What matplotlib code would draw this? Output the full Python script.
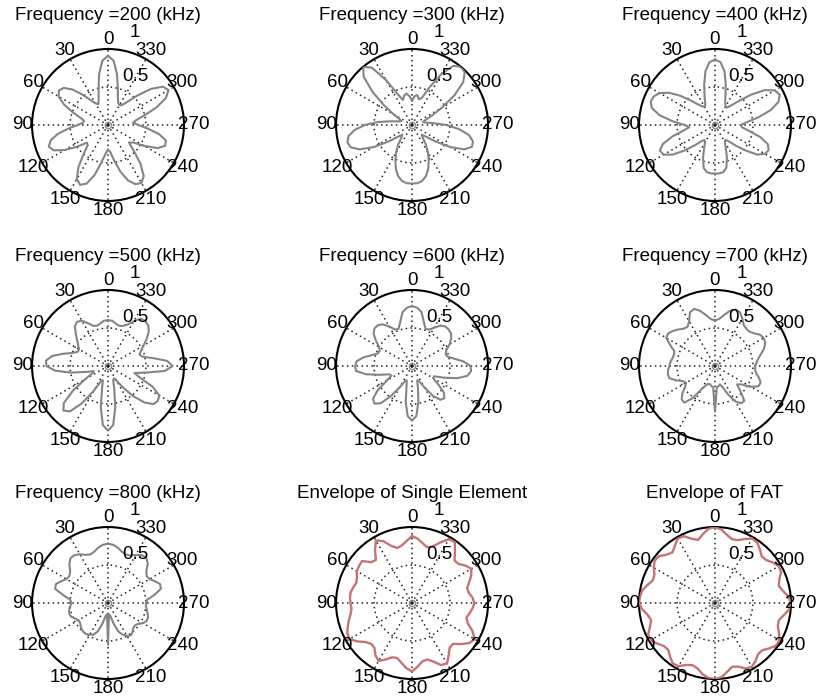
import numpy as np
import matplotlib.pyplot as plt

plt.rcParams['font.family'] = ['Liberation Sans', 'DejaVu Sans']

# angle grid in degrees (0 at top, counter-clockwise)
angles_deg = np.arange(0, 360, 5)

r_200 = [0.91, 0.85, 0.68, 0.48, 0.36, 0.30, 0.33, 0.40, 0.52, 0.66, 0.76, 0.79,
         0.75, 0.64, 0.50, 0.38, 0.32, 0.33, 0.40, 0.52, 0.67, 0.78, 0.83, 0.79,
         0.66, 0.50, 0.36, 0.38, 0.50, 0.68, 0.82, 0.87, 0.82, 0.68, 0.50, 0.38,
         0.32, 0.36, 0.48, 0.64, 0.78, 0.86, 0.88, 0.82, 0.66, 0.48, 0.36, 0.40,
         0.55, 0.72, 0.80, 0.79, 0.68, 0.52, 0.40, 0.33, 0.38, 0.50, 0.68, 0.84,
         0.92, 0.88, 0.74, 0.55, 0.40, 0.32, 0.30, 0.32, 0.38, 0.50, 0.68, 0.85]

r_300 = [0.32, 0.38, 0.42, 0.40, 0.35, 0.45, 0.68, 0.92, 1.00, 0.90, 0.68, 0.45,
         0.28, 0.18, 0.15, 0.18, 0.28, 0.45, 0.62, 0.76, 0.85, 0.88, 0.86, 0.76,
         0.58, 0.38, 0.24, 0.18, 0.22, 0.32, 0.42, 0.52, 0.62, 0.70, 0.75, 0.77,
         0.77, 0.77, 0.75, 0.70, 0.62, 0.52, 0.42, 0.32, 0.22, 0.18, 0.24, 0.38,
         0.58, 0.76, 0.84, 0.83, 0.76, 0.62, 0.45, 0.28, 0.18, 0.15, 0.18, 0.28,
         0.45, 0.68, 0.88, 0.98, 1.00, 0.95, 0.78, 0.55, 0.38, 0.35, 0.40, 0.38]

r_400 = [0.86, 0.83, 0.72, 0.55, 0.40, 0.30, 0.28, 0.30, 0.36, 0.46, 0.60, 0.74,
         0.84, 0.89, 0.90, 0.86, 0.74, 0.56, 0.40, 0.34, 0.42, 0.58, 0.73, 0.80,
         0.78, 0.68, 0.52, 0.38, 0.28, 0.24, 0.26, 0.34, 0.46, 0.58, 0.63, 0.64,
         0.64, 0.64, 0.63, 0.58, 0.46, 0.34, 0.26, 0.24, 0.28, 0.38, 0.52, 0.68,
         0.76, 0.78, 0.74, 0.62, 0.46, 0.36, 0.34, 0.42, 0.58, 0.76, 0.89, 0.94,
         0.91, 0.80, 0.62, 0.45, 0.34, 0.28, 0.28, 0.32, 0.40, 0.55, 0.72, 0.83]

r_500 = [0.60, 0.60, 0.57, 0.55, 0.56, 0.62, 0.69, 0.71, 0.68, 0.60, 0.53, 0.48,
         0.44, 0.44, 0.50, 0.62, 0.75, 0.82, 0.81, 0.70, 0.50, 0.30, 0.20, 0.22,
         0.35, 0.56, 0.76, 0.83, 0.78, 0.60, 0.38, 0.22, 0.20, 0.30, 0.55, 0.78,
         0.85, 0.78, 0.55, 0.32, 0.20, 0.18, 0.22, 0.35, 0.52, 0.68, 0.78, 0.80,
         0.78, 0.65, 0.45, 0.36, 0.50, 0.75, 0.85, 0.78, 0.60, 0.47, 0.44, 0.48,
         0.54, 0.62, 0.70, 0.75, 0.77, 0.76, 0.68, 0.60, 0.56, 0.55, 0.57, 0.60]

r_600 = [0.79, 0.77, 0.72, 0.60, 0.52, 0.53, 0.60, 0.67, 0.70, 0.70, 0.66, 0.58,
         0.50, 0.47, 0.48, 0.55, 0.65, 0.73, 0.75, 0.74, 0.62, 0.45, 0.32, 0.30,
         0.38, 0.55, 0.67, 0.70, 0.64, 0.48, 0.32, 0.22, 0.20, 0.28, 0.48, 0.66,
         0.72, 0.66, 0.48, 0.30, 0.20, 0.22, 0.32, 0.48, 0.58, 0.60, 0.55, 0.42,
         0.32, 0.32, 0.45, 0.62, 0.74, 0.78, 0.77, 0.68, 0.56, 0.48, 0.47, 0.50,
         0.57, 0.63, 0.67, 0.68, 0.68, 0.65, 0.58, 0.53, 0.52, 0.60, 0.72, 0.77]

r_700 = [0.60, 0.62, 0.68, 0.75, 0.80, 0.78, 0.68, 0.63, 0.64, 0.68, 0.72, 0.75,
         0.74, 0.65, 0.57, 0.56, 0.57, 0.59, 0.60, 0.62, 0.63, 0.62, 0.55, 0.47,
         0.44, 0.48, 0.56, 0.62, 0.63, 0.52, 0.35, 0.28, 0.25, 0.25, 0.27, 0.28,
         0.60, 0.28, 0.27, 0.25, 0.30, 0.42, 0.54, 0.60, 0.60, 0.48, 0.38, 0.42,
         0.55, 0.63, 0.64, 0.60, 0.55, 0.53, 0.53, 0.55, 0.58, 0.63, 0.69, 0.73,
         0.74, 0.72, 0.67, 0.64, 0.64, 0.66, 0.72, 0.78, 0.79, 0.75, 0.68, 0.62]

r_800 = [0.78, 0.77, 0.74, 0.70, 0.68, 0.70, 0.74, 0.77, 0.77, 0.72, 0.65, 0.62,
         0.63, 0.68, 0.73, 0.72, 0.60, 0.50, 0.48, 0.50, 0.52, 0.53, 0.52, 0.48,
         0.45, 0.45, 0.47, 0.49, 0.50, 0.50, 0.48, 0.46, 0.40, 0.28, 0.17, 0.15,
         0.55, 0.15, 0.17, 0.28, 0.40, 0.46, 0.50, 0.52, 0.50, 0.47, 0.46, 0.48,
         0.53, 0.56, 0.56, 0.54, 0.52, 0.50, 0.50, 0.52, 0.62, 0.72, 0.73, 0.68,
         0.63, 0.62, 0.66, 0.74, 0.78, 0.77, 0.73, 0.69, 0.68, 0.70, 0.74, 0.77]

env_single = [0.88, 0.82, 0.77, 0.75, 0.80, 0.90, 0.95, 0.85, 0.74, 0.76, 0.86, 0.85,
              0.84, 0.80, 0.78, 0.80, 0.82, 0.82, 0.81, 0.80, 0.82, 0.86, 0.90, 0.94,
              0.95, 0.88, 0.80, 0.76, 0.77, 0.84, 0.88, 0.82, 0.76, 0.75, 0.80, 0.86,
              0.90, 0.84, 0.78, 0.77, 0.82, 0.90, 0.92, 0.84, 0.77, 0.76, 0.84, 0.92,
              0.95, 0.88, 0.78, 0.74, 0.77, 0.80, 0.82, 0.80, 0.76, 0.75, 0.80, 0.86,
              0.90, 0.86, 0.80, 0.79, 0.88, 0.98, 0.97, 0.88, 0.79, 0.76, 0.80, 0.85]

env_fat = [1.00, 0.98, 0.92, 0.86, 0.90, 0.97, 0.98, 0.92, 0.87, 0.90, 0.96, 0.97,
           0.93, 0.88, 0.87, 0.92, 0.97, 0.99, 1.00, 0.96, 0.90, 0.87, 0.91, 0.97,
           0.98, 0.93, 0.88, 0.87, 0.92, 0.97, 0.96, 0.90, 0.87, 0.89, 0.95, 0.99,
           1.00, 0.98, 0.92, 0.87, 0.89, 0.95, 0.97, 0.93, 0.88, 0.88, 0.93, 0.98,
           0.98, 0.93, 0.88, 0.87, 0.92, 0.98, 1.00, 0.97, 0.91, 0.87, 0.90, 0.96,
           0.97, 0.93, 0.88, 0.87, 0.92, 0.97, 0.98, 0.93, 0.88, 0.87, 0.91, 0.97]

titles = ['Frequency =200 (kHz)', 'Frequency =300 (kHz)', 'Frequency =400 (kHz)',
          'Frequency =500 (kHz)', 'Frequency =600 (kHz)', 'Frequency =700 (kHz)',
          'Frequency =800 (kHz)', 'Envelope of Single Element', 'Envelope of FAT']
patterns = [r_200, r_300, r_400, r_500, r_600, r_700, r_800, env_single, env_fat]
label_angles = list(range(0, 360, 30))

GRAY = '#858585'
RED = '#c47474'


def draw_panel(ax, r, title, color, lw):
    th = np.deg2rad(np.append(angles_deg, 360))
    rr = np.append(r, r[0])
    ax.set_theta_zero_location('N')
    ax.set_theta_direction(1)
    ax.set_ylim(0, 1)
    ax.set_xticks(np.deg2rad(label_angles))
    ax.set_xticklabels([])
    ax.set_yticks([0.5])
    ax.set_yticklabels([])
    ax.tick_params(length=0)
    ax.grid(True, color='#222222', linestyle=(0, (1, 2.2)), linewidth=1.1)
    ax.spines['polar'].set_linewidth(1.5)
    ax.plot(th, rr, color=color, lw=lw, zorder=3)
    ax.plot(0, 0, 'o', ms=4.5, mfc='none', mec='#888888', mew=1.0, zorder=3)
    for a in label_angles:
        ax.text(np.deg2rad(a), 1.13, str(a), ha='center', va='center', fontsize=13.5)
    ax.text(np.deg2rad(344), 1.27, '1', ha='center', va='center', fontsize=13.5)
    ax.text(np.deg2rad(331), 0.73, '0.5', ha='center', va='center', fontsize=13.5)
    ax.set_title(title, fontsize=13.5, y=1.0, pad=21)


fig = plt.figure(figsize=(8.23, 7.0), dpi=100)
lefts = [0.0389, 0.4083, 0.7764]
bottoms = [0.7129, 0.3686, 0.030]
w, h = 0.1847, 0.2171

for i, (r, title) in enumerate(zip(patterns, titles)):
    ax = fig.add_axes([lefts[i % 3], bottoms[i // 3], w, h], projection='polar')
    if i < 7:
        draw_panel(ax, r, title, GRAY, 1.5)
    else:
        draw_panel(ax, r, title, RED, 1.7)

fig.savefig('out.png', dpi=100)
